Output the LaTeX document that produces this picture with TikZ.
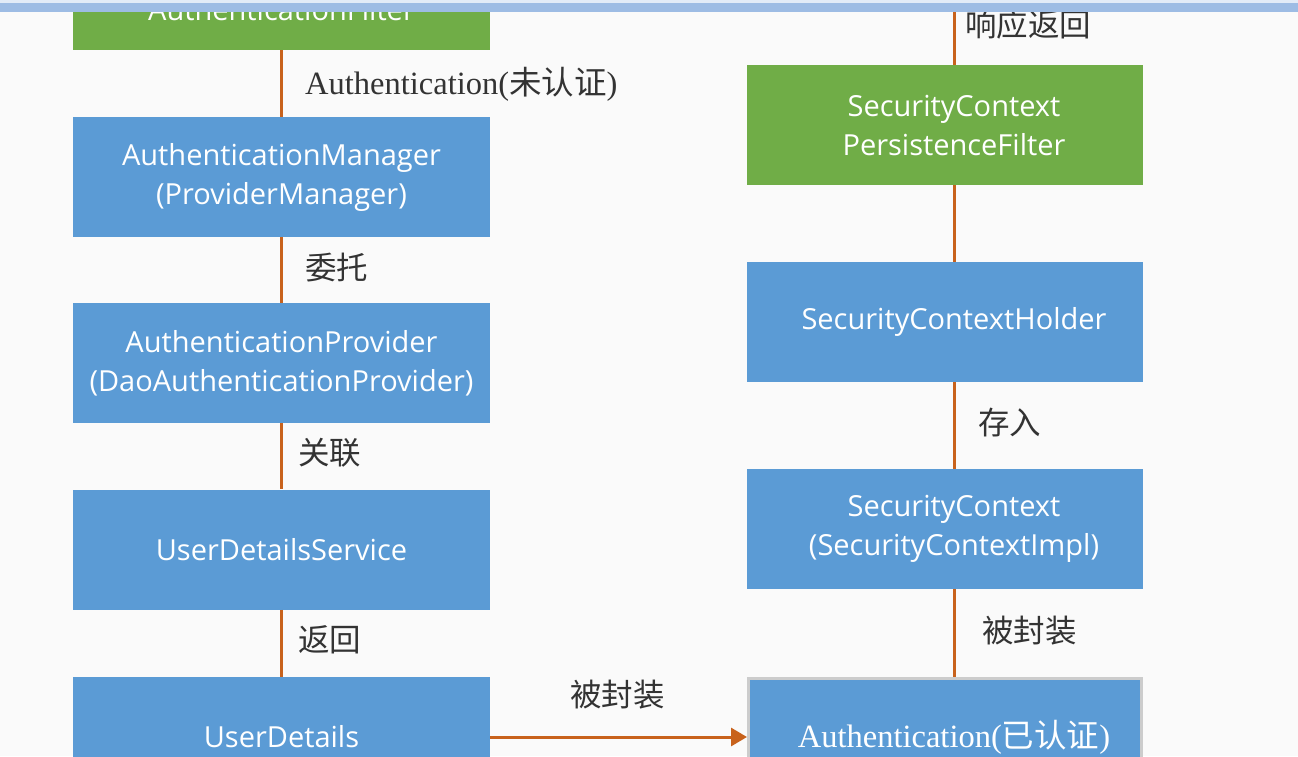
\documentclass[tikz,border=0pt]{standalone}
\usepackage{fontspec}
\setmainfont{Liberation Serif}
\newfontfamily\boxfont{Open Sans}
\newfontfamily\cjk{Noto Sans CJK SC}
\usetikzlibrary{arrows.meta}
\definecolor{boxblue}{HTML}{5B9BD5}
\definecolor{boxgreen}{HTML}{70AD47}
\definecolor{lineorange}{HTML}{C8621C}
\definecolor{labelgray}{HTML}{333333}
\definecolor{topbar}{HTML}{9DBCE4}
\newcommand{\rsh}{\hspace*{18pt}}
\tikzset{
  lbox/.style={rectangle, fill=boxblue, minimum width=417pt, minimum height=120pt, inner sep=0pt, text=white, font=\boxfont\fontsize{29}{39}\selectfont, align=center},
  rbox/.style={lbox, minimum width=396pt},
  gbox/.style={fill=boxgreen},
  conn/.style={draw=lineorange, line width=3pt},
  lab/.style={text=labelgray, font=\cjk\fontsize{31.5}{34}\selectfont, anchor=west, inner sep=0pt},
}
\begin{document}
\begin{tikzpicture}[x=1pt,y=-1pt]
\useasboundingbox (0,0) rectangle (1298,756);
\fill[white!98!black] (0,0) rectangle (1298,756);
\begin{scope}
\clip (0,0) rectangle (1298,756);
% left column
\node[lbox, gbox, minimum height=80pt] (filter) at (281.5,10) {AuthenticationFilter};
\node[lbox] (manager) at (281.5,177) {AuthenticationManager\\(ProviderManager)};
\node[lbox] (provider) at (281.5,363) {AuthenticationProvider\\(DaoAuthenticationProvider)};
\node[lbox] (uds) at (281.5,549.5) {UserDetailsService};
\node[lbox] (ud) at (281.5,737) {UserDetails};
% right column
\coordinate (rx) at (954,0);
\node[rbox, gbox] (pf) at (945,125) {\rsh SecurityContext\\\rsh PersistenceFilter};
\node[rbox] (holder) at (945,322) {\rsh SecurityContextHolder};
\node[rbox] (ctx) at (945,529) {\rsh SecurityContext\\\rsh (SecurityContextImpl)};
\node[rbox, draw=black!20, line width=3pt, minimum width=393pt, minimum height=118pt, text=white, font=\fontsize{32.5}{36}\selectfont] (auth) at (945,737) {\rsh Authentication(\cjk 已认证\rmfamily)};
% connectors
\draw[conn] (filter.south) -- (manager.north);
\draw[conn] (manager.south) -- (provider.north);
\draw[conn] (provider.south) -- (uds.north);
\draw[conn] (uds.south) -- (ud.north);
\draw[conn] (rx) -- (pf.north -| rx);
\draw[conn] (pf.south -| rx) -- (holder.north -| rx);
\draw[conn] (holder.south -| rx) -- (ctx.north -| rx);
\draw[conn] (ctx.south -| rx) -- (auth.north -| rx);
\draw[conn, -{Triangle[length=16pt,width=18pt]}] (ud.east |- 0,737) -- (auth.west |- 0,737);
% labels
\node[lab, font=\fontsize{32.5}{36}\selectfont] (l1) at (305,84) {Authentication(\cjk 未认证\rmfamily)};
\node[lab] (l2) at (305,268) {委托};
\node[lab] (l3) at (298,453) {关联};
\node[lab] (l4) at (298,640) {返回};
\node[lab] (l5) at (570,695) {被封装};
\node[lab] (r1) at (965,25) {响应返回};
\node[lab] (r2) at (978,423) {存入};
\node[lab] (r3) at (982,631) {被封装};
% top bar
\fill[topbar] (0,0) rectangle (1298,12);
\fill[white!70!topbar] (0,0) rectangle (1298,3);
\end{scope}
\end{tikzpicture}
\end{document}
